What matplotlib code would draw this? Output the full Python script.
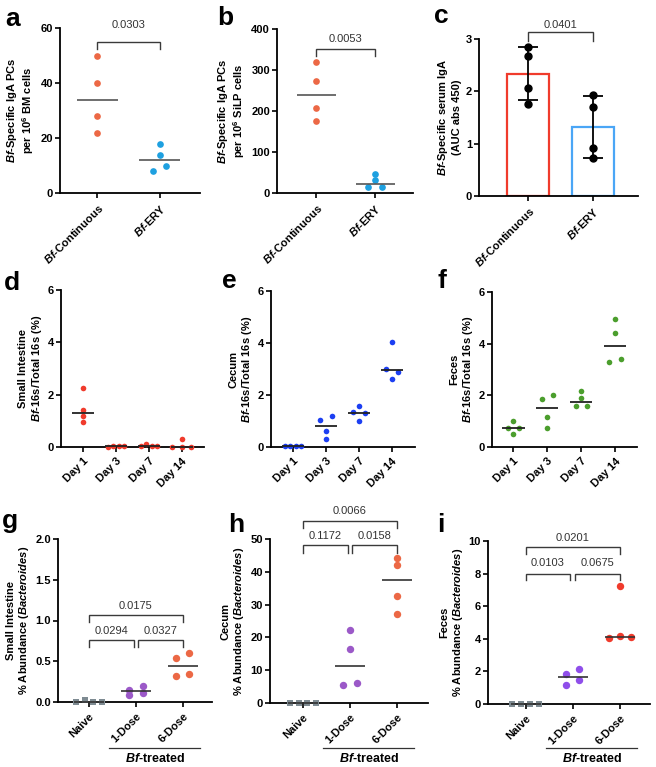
import numpy as np
import matplotlib
matplotlib.use("Agg")
import matplotlib.pyplot as plt
from matplotlib.transforms import blended_transform_factory

W, H = 656, 767

plt.rcParams.update({
    "font.family": ["Liberation Sans", "DejaVu Sans"],
    "font.size": 8,
    "font.weight": "bold",
    "mathtext.fontset": "custom",
    "mathtext.rm": "Liberation Sans:bold",
    "mathtext.it": "Liberation Sans:italic:bold",
    "mathtext.bf": "Liberation Sans:bold",
    "axes.linewidth": 1.3,
})

# ---- data ----
grp_ab = [r"$\mathit{Bf}$-Continuous", r"$\mathit{Bf}$-ERY"]
a_cont = [50, 40, 27.9, 21.8]
a_ery = [17.9, 13.8, 8.1, 9.9]
b_cont = [320, 272, 208, 176]
b_ery = [47, 32, 14, 14]
c_cont = [2.84, 2.67, 2.07, 1.76]
c_ery = [1.93, 1.70, 0.925, 0.72]

days = ["Day 1", "Day 3", "Day 7", "Day 14"]
d_si = [[2.24, 1.41, 1.17, 0.94], [0.0, 0.04, 0.02, 0.03],
        [0.02, 0.1, 0.03, 0.04], [0.0, 0.32, 0.0, 0.0]]
e_cecum = [[0.02, 0.04, 0.03, 0.04], [1.04, 1.18, 0.6, 0.29],
           [1.56, 1.36, 1.29, 1.01], [4.05, 2.99, 2.9, 2.63]]
f_feces = [[1.0, 0.75, 0.72, 0.49], [1.86, 2.03, 1.18, 0.72],
           [2.15, 1.9, 1.59, 1.6], [4.94, 4.42, 3.28, 3.39]]

doses = ["Naive", "1-Dose", "6-Dose"]
g_si = [[0.0, 0.02, 0.0, 0.0], [0.152, 0.2, 0.082, 0.11], [0.534, 0.604, 0.32, 0.345]]
h_cecum = [[0.0, 0.0, 0.0, 0.0], [22.2, 16.6, 5.6, 6.2], [44.2, 42.1, 32.7, 27.0]]
i_feces = [[0.0, 0.0, 0.0, 0.0], [1.82, 2.14, 1.16, 1.50], [7.25, 4.05, 4.18, 4.08]]

# significance: (group1, group2, p text)
p_a = [(0, 1, "0.0303")]
p_b = [(0, 1, "0.0053")]
p_c = [(0, 1, "0.0401")]
p_g = [(0, 2, "0.0175"), (0, 1, "0.0294"), (1, 2, "0.0327")]
p_h = [(0, 2, "0.0066"), (0, 1, "0.1172"), (1, 2, "0.0158")]
p_i = [(0, 2, "0.0201"), (0, 1, "0.0103"), (1, 2, "0.0675")]

# ---- colours ----
ORANGE = "#EC6845"
CYAN = "#1EA0E0"
RED = "#F03B2C"
BLUE = "#1C3FF2"
GREEN = "#4B9E2D"
PURPLE = "#9B59C8"
VIOLET = "#8F4EEA"
GREY = "#7E8B92"

fig = plt.figure(figsize=(W / 100, H / 100), dpi=100)


def make_ax(l, t, r, b):
    return fig.add_axes([l / W, 1 - b / H, (r - l) / W, (b - t) / H])


def style(ax, xlim, ylim, yticks, yticklabels, xticklabels, ylabel):
    ax.set_xlim(*xlim)
    ax.set_ylim(*ylim)
    ax.spines["top"].set_visible(False)
    ax.spines["right"].set_visible(False)
    ax.set_yticks(yticks)
    ax.set_yticklabels(yticklabels)
    ax.set_xticks(range(len(xticklabels)))
    ax.set_xticklabels(xticklabels, rotation=45, ha="right", va="top",
                       rotation_mode="anchor")
    ax.tick_params(direction="out", length=3.5, width=1.2, labelsize=8)
    ax.tick_params(axis="x", pad=3)
    ax.tick_params(axis="y", pad=1.5)
    ax.set_ylabel(ylabel, fontsize=8, fontweight="bold", linespacing=1.15,
                  labelpad=3)


def px_per_unit(ax):
    bb = ax.get_position()
    x0, x1 = ax.get_xlim()
    y0, y1 = ax.get_ylim()
    return bb.width * W / (x1 - x0), bb.height * H / (y1 - y0)


def swarm(vals, yppu, diam, step):
    vals = np.asarray(vals, float)
    order = sorted(range(len(vals)), key=lambda k: -vals[k])
    rows, cur = [], [order[0]]
    for k in order[1:]:
        if (vals[cur[0]] - vals[k]) * yppu < 0.85 * diam:
            cur.append(k)
        else:
            rows.append(cur)
            cur = [k]
    rows.append(cur)
    slots = {1: [0], 2: [-1, 1], 3: [-1.7, 0, 1.7], 4: [-1.5, -0.5, 0.5, 1.5]}
    off = np.zeros(len(vals))
    for r in rows:
        for k, sl in zip(sorted(r), slots[len(r)]):
            off[k] = sl * step
    return off


def dots(ax, groups, styles, half, mcolor, mlw):
    xppu, yppu = px_per_unit(ax)
    for i, (vals, st) in enumerate(zip(groups, styles)):
        color, marker, diam, step = st
        off = swarm(vals, yppu, diam, step) / xppu
        ax.scatter(i + off, vals, s=(diam * 0.72) ** 2, color=color,
                   marker=marker, linewidths=0, zorder=4, clip_on=False)
        med = np.median(vals)
        ax.plot([i - half, i + half], [med, med], color=mcolor, lw=mlw,
                zorder=5, clip_on=False, solid_capstyle="butt")


def brackets(ax, items, levels):
    for (g1, g2, txt), (y, tip, ty) in zip(items, levels):
        x1, x2 = g1, g2
        if g2 - g1 == 1 and len(items) > 1:
            x1 = g1 + (0.05 if g1 == 1 else 0)
            x2 = g2 - (0.05 if g2 == 1 else 0)
        ax.plot([x1, x1, x2, x2], [tip, y, y, tip], color="#3a3a3a", lw=1.0,
                clip_on=False, solid_joinstyle="miter")
        ax.text((x1 + x2) / 2, ty, txt, ha="center", va="center",
                fontsize=8, fontweight="normal", color="#333333",
                clip_on=False)


def letter(x, y, s):
    fig.text(x / W, 1 - y / H, s, fontsize=19, fontweight="bold",
             ha="left", va="baseline")


# ---- row 1 ----
ax = make_ax(60, 28, 200, 193)
style(ax, (-0.6, 1.65), (0, 60), [0, 20, 40, 60], ["0", "20", "40", "60"],
      grp_ab, "$\\mathit{Bf}$-Specific IgA PCs\nper 10$^{6}$ BM cells")
dots(ax, [a_cont, a_ery], [(ORANGE, "o", 6.7, 6.7), (CYAN, "o", 6.7, 6.7)],
     0.33, "#555555", 1.2)
brackets(ax, p_a, [(55, 52.3, 61)])
letter(5, 26, "a")

ax = make_ax(277, 29, 413, 193)
style(ax, (-0.66, 1.64), (0, 400), [0, 100, 200, 300, 400],
      ["0", "100", "200", "300", "400"], grp_ab,
      "$\\mathit{Bf}$-Specific IgA PCs\nper 10$^{6}$ SiLP cells")
dots(ax, [b_cont, b_ery], [(ORANGE, "o", 6.7, 6.7), (CYAN, "o", 6.7, 6.7)],
     0.33, "#555555", 1.2)
brackets(ax, p_b, [(351, 334, 375)])
letter(217, 25, "b")

ax = make_ax(479, 39, 638, 196)
style(ax, (-0.75, 1.69), (0, 3), [0, 1, 2, 3], ["0", "1", "2", "3"], grp_ab,
      "$\\mathit{Bf}$-Specific serum IgA\n(AUC abs 450)")
c_groups = [c_cont, c_ery]
means = [np.mean(v) for v in c_groups]
sds = [np.std(v, ddof=1) for v in c_groups]
ax.bar([0, 1], means, width=0.65, facecolor="white", edgecolor=[RED, "#4AA6F6"],
       linewidth=1.6, zorder=2)
ax.errorbar([0, 1], means, yerr=sds, fmt="none", ecolor="black",
            elinewidth=1.3, capsize=7.5, capthick=1.3, zorder=3)
for i, v in enumerate(c_groups):
    ax.scatter([i] * len(v), v, s=25, color="black", zorder=4, clip_on=False)
brackets(ax, p_c, [(3.13, 2.97, 3.26)])
letter(434, 23, "c")

# ---- row 2 ----
for (l, t, r, b), xl, data, col, lab, let, lpos in [
    ((61, 290, 204, 447), (-0.67, 3.67), d_si, RED, "Small Intestine", "d", (4, 290)),
    ((271, 291, 415, 447), (-0.67, 3.7), e_cecum, BLUE, "Cecum", "e", (222, 288)),
    ((492, 292, 637, 447), (-0.63, 3.65), f_feces, GREEN, "Feces", "f", (437, 288)),
]:
    ax = make_ax(l, t, r, b)
    style(ax, xl, (0, 6), [0, 2, 4, 6], ["0", "2", "4", "6"], days,
          lab + "\n$\\mathit{Bf}$-16s/Total 16s (%)")
    dots(ax, data, [(col, "o", 5.6, 5.6)] * 4, 0.33, "#222222", 1.3)
    letter(lpos[0], lpos[1], let)

# ---- row 3 ----
row3 = [
    ((58, 539, 212, 702), (-0.66, 2.62), (0, 2.0), [0, 0.5, 1.0, 1.5, 2.0],
     ["0.0", "0.5", "1.0", "1.5", "2.0"], g_si, PURPLE, ORANGE, "Small Intestine",
     p_g, [(1.07, 0.985, 1.18), (0.76, 0.68, 0.875), (0.76, 0.68, 0.875)],
     "g", (2, 528)),
    ((270, 539, 428, 703), (-0.7, 2.66), (0, 50), [0, 10, 20, 30, 40, 50],
     ["0", "10", "20", "30", "40", "50"], h_cecum, PURPLE, ORANGE, "Cecum",
     p_h, [(55.6, 53.3, 58.6), (48.2, 45.8, 50.9), (48.2, 45.8, 50.9)],
     "h", (228, 532)),
    ((488, 541, 650, 704), (-0.8, 2.64), (0, 10), [0, 2, 4, 6, 8, 10],
     ["0", "2", "4", "6", "8", "10"], i_feces, VIOLET, RED, "Feces",
     p_i, [(9.61, 9.18, 10.17), (7.98, 7.6, 8.63), (7.98, 7.6, 8.63)],
     "i", (437, 532)),
]
for (box, xl, yl, yt, ytl, data, c1, c2, lab, pv, lev, let, lpos) in row3:
    ax = make_ax(*box)
    style(ax, xl, yl, yt, ytl, doses,
          lab + "\n% Abundance ($\\mathit{Bacteroides}$)")
    dots(ax, data, [(GREY, "s", 6.8, 8.8), (c1, "o", 7.4, 6.6), (c2, "o", 7.4, 6.6)],
         0.32, "#333333", 1.2)
    brackets(ax, pv, lev)
    tr = blended_transform_factory(ax.transData, fig.transFigure)
    ax.plot([1 - 0.57, 2 + 0.37], [(H - 748) / H] * 2, color="#333333", lw=0.9,
            transform=tr, clip_on=False)
    ax.text(1.4, (H - 759) / H, "$\\mathit{Bf}$-treated", transform=tr,
            ha="center", va="center", fontsize=9, fontweight="bold")
    letter(lpos[0], lpos[1], let)

fig.savefig("out.png", dpi=100)
